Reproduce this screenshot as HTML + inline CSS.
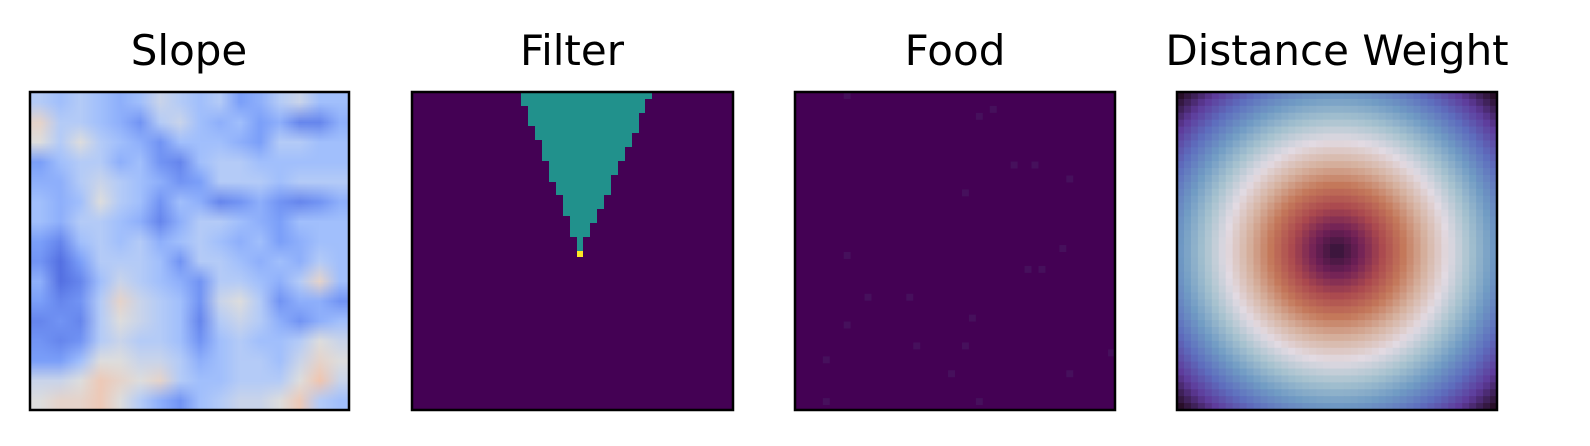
<!DOCTYPE html>
<html><head><meta charset="utf-8"><style>
html,body{margin:0;padding:0;background:#fff;width:1590px;height:446px;overflow:hidden;position:relative}
svg text{font-family:"DejaVu Sans","Liberation Sans",sans-serif;font-size:42px;fill:#000}
#slopeCanvas{position:absolute;left:30px;top:92px;width:319px;height:318px;image-rendering:auto}
#fig{position:absolute;left:0;top:0}
</style></head><body>
<canvas id="slopeCanvas" width="16" height="16"></canvas>
<svg id="fig" width="1590" height="446">
<text x="189" y="65" text-anchor="middle">Slope</text>
<text x="572" y="65" text-anchor="middle">Filter</text>
<text x="955" y="65" text-anchor="middle">Food</text>
<text x="1337" y="65" text-anchor="middle">Distance Weight</text>
<g id="filter">
<rect x="412" y="92" width="321" height="318" fill="#440154"/>
<path d="M521,92 L521,106 L528,106 L528,126 L535,126 L535,140 L542,140 L542,161 L549,161 L549,182 L556,182 L556,195 L563,195 L563,216 L570,216 L570,237 L577,237 L577,251 L583,251 L583,237 L590,237 L590,223 L597,223 L597,209 L604,209 L604,195 L611,195 L611,175 L618,175 L618,161 L625,161 L625,147 L632,147 L632,133 L639,133 L639,113 L645,113 L645,99 L652,99 L652,92 Z" fill="#21918c"/>
<rect x="577" y="251" width="6" height="6" fill="#fde725"/>
</g>
<g id="food"><rect x="795" y="92" width="320" height="318" fill="#440154"/></g>
<g id="dist"></g>
<g id="frames" fill="none" stroke="#000" stroke-width="2.5"></g>
</svg>
<script>
const slopeValues = [
[0.4,0.35,0.4,0.35,0.3,0.35,0.45,0.4,0.35,0.4,0.25,0.3,0.4,0.45,0.35,0.35],
[0.55,0.4,0.4,0.35,0.3,0.22,0.4,0.45,0.35,0.3,0.35,0.25,0.3,0.18,0.18,0.3],
[0.5,0.4,0.5,0.4,0.35,0.3,0.22,0.35,0.35,0.35,0.3,0.25,0.4,0.4,0.35,0.35],
[0.25,0.35,0.4,0.4,0.3,0.35,0.22,0.18,0.35,0.4,0.4,0.35,0.35,0.35,0.35,0.35],
[0.3,0.3,0.4,0.45,0.4,0.35,0.3,0.22,0.25,0.4,0.4,0.4,0.35,0.4,0.4,0.4],
[0.35,0.3,0.35,0.5,0.4,0.35,0.22,0.35,0.3,0.18,0.22,0.3,0.22,0.18,0.22,0.3],
[0.35,0.3,0.4,0.4,0.35,0.3,0.18,0.3,0.4,0.4,0.35,0.3,0.25,0.35,0.35,0.35],
[0.25,0.18,0.35,0.4,0.35,0.4,0.3,0.35,0.4,0.35,0.3,0.35,0.25,0.3,0.35,0.35],
[0.22,0.12,0.25,0.4,0.4,0.4,0.35,0.22,0.4,0.4,0.35,0.3,0.35,0.3,0.4,0.35],
[0.3,0.12,0.18,0.35,0.45,0.4,0.35,0.3,0.22,0.4,0.4,0.35,0.3,0.4,0.55,0.35],
[0.25,0.18,0.22,0.4,0.55,0.45,0.4,0.35,0.22,0.45,0.5,0.4,0.22,0.3,0.3,0.22],
[0.18,0.22,0.18,0.4,0.5,0.45,0.4,0.35,0.18,0.4,0.45,0.4,0.3,0.22,0.3,0.35],
[0.22,0.18,0.22,0.4,0.45,0.4,0.4,0.35,0.22,0.35,0.4,0.35,0.35,0.4,0.5,0.45],
[0.25,0.25,0.35,0.5,0.5,0.45,0.45,0.4,0.3,0.35,0.4,0.4,0.35,0.45,0.55,0.5],
[0.45,0.45,0.5,0.6,0.55,0.5,0.55,0.4,0.35,0.35,0.4,0.4,0.4,0.5,0.62,0.45],
[0.5,0.55,0.55,0.6,0.5,0.4,0.3,0.22,0.35,0.4,0.45,0.45,0.5,0.6,0.4,0.35]
];
const foodCols = [7,28,26,31,34,39,24,38,35,33,7,10,25,16,7,17,4,24,45,39,22,26,4];
const foodRows = [0,2,3,10,10,12,14,22,25,25,23,29,32,29,33,36,38,36,37,40,40,44,44];
const coolwarmStops = [[0,[59,76,192]],[0.125,[85,114,227]],[0.25,[123,159,249]],[0.375,[170,199,253]],[0.5,[221,221,221]],[0.625,[241,196,173]],[0.75,[244,154,123]],[1,[180,4,38]]];
const twilightStops = [[0,[47,20,54]],[0.1,[110,31,87]],[0.2,[170,72,78]],[0.3,[196,120,90]],[0.4,[214,178,160]],[0.5,[226,218,226]],[0.6,[166,194,207]],[0.7,[112,155,196]],[0.8,[94,110,190]],[0.9,[94,58,154]],[1,[40,14,40]]];
const distGrid = 46;

const NS='http://www.w3.org/2000/svg';
function cmapArr(stops,v){v=Math.max(0,Math.min(1,v));for(let i=1;i<stops.length;i++){if(v<=stops[i][0]){const a=stops[i-1],b=stops[i],t=(v-a[0])/(b[0]-a[0]);return a[1].map((c,k)=>Math.round(c+(b[1][k]-c)*t));}}return stops[stops.length-1][1];}
function cmap(stops,v){return 'rgb('+cmapArr(stops,v).join(',')+')';}
function rect(g,x,y,w,h,fill){const r=document.createElementNS(NS,'rect');r.setAttribute('x',x);r.setAttribute('y',y);r.setAttribute('width',w);r.setAttribute('height',h);r.setAttribute('fill',fill);g.appendChild(r);return r;}
// slope (canvas, smoothed upscale)
const cv=document.getElementById('slopeCanvas');const ctx=cv.getContext('2d');
const sN=slopeValues.length;cv.width=sN;cv.height=sN;
const img=ctx.createImageData(sN,sN);
slopeValues.forEach((row,i)=>row.forEach((v,j)=>{const c=cmapArr(coolwarmStops,v);const k=(i*sN+j)*4;img.data[k]=c[0];img.data[k+1]=c[1];img.data[k+2]=c[2];img.data[k+3]=255;}));
ctx.putImageData(img,0,0);
// food
const fg=document.getElementById('food');const fc=320/46;
foodCols.forEach((c,i)=>{const r=rect(fg,795+c*fc,92+foodRows[i]*fc,fc,fc,'#46105c');

});
// distance
const dg=document.getElementById('dist');const dx0=1177,dy0=92,dw=320,dh=318;const cw=dw/distGrid,ch=dh/distGrid;const c=(distGrid-1)/2;const dmax=Math.hypot(c,c);
for(let i=0;i<distGrid;i++)for(let j=0;j<distGrid;j++){const v=Math.hypot(i-c,j-c)/dmax;const r=rect(dg,dx0+j*cw,dy0+i*ch,cw+0.5,ch+0.5,cmap(twilightStops,v));

}
// frames
const fr=document.getElementById('frames');
[[30,319],[412,321],[795,320],[1177,320]].forEach(([x,w])=>{const r=rect(fr,x,92,w,318,'none');

});
</script>
</body></html>
